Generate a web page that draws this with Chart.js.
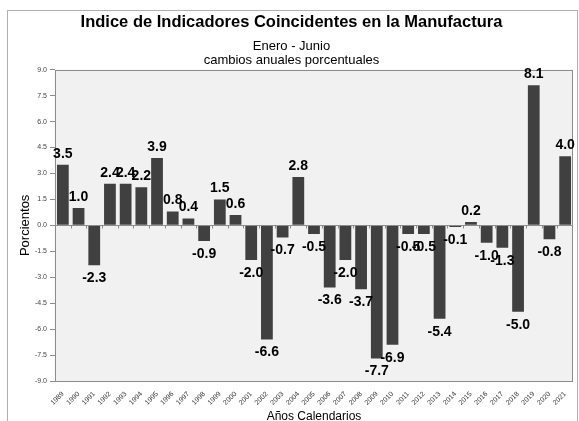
<!DOCTYPE html>
<html>
<head>
<meta charset="utf-8">
<script src="https://cdn.jsdelivr.net/npm/chart.js@4.4.1/dist/chart.umd.min.js"></script>
<style>
  html, body { margin: 0; padding: 0; background: #fff; }
  #wrapper { width: 579px; height: 421px; }
</style>
</head>
<body>
<div id="wrapper"><canvas id="canvas"></canvas></div>
<script>
// años calendario y cambios anuales (%)
var years = ['1989', '1990', '1991', '1992', '1993', '1994', '1995', '1996', '1997', '1998',
  '1999', '2000', '2001', '2002', '2003', '2004', '2005', '2006', '2007', '2008', '2009',
  '2010', '2011', '2012', '2013', '2014', '2015', '2016', '2017', '2018', '2019', '2020', '2021'];
var changes = [3.5, 1.0, -2.3, 2.4, 2.4, 2.2, 3.9, 0.8, 0.4, -0.9,
  1.5, 0.6, -2.0, -6.6, -0.7, 2.8, -0.5, -3.6, -2.0, -3.7, -7.7,
  -6.9, -0.5, -0.5, -5.4, -0.1, 0.2, -1.0, -1.3, -5.0, 8.1, -0.8, 4.0];
var yTicks = [-9.0, -7.5, -6.0, -4.5, -3.0, -1.5, 0.0, 1.5, 3.0, 4.5, 6.0, 7.5, 9.0];

var FONT = '"Liberation Sans", Arial, sans-serif';

// fondo, marcos y línea del cero
var framePlugin = {
  id: 'frame',
  beforeDraw: function(chart) {
    var c = chart.ctx, a = chart.chartArea;
    c.save();
    c.strokeStyle = '#b0b0b0';
    c.lineWidth = 1;
    c.strokeRect(7.5, 10.5, 570, 440);
    c.fillStyle = '#f1f1f1';
    c.fillRect(a.left, a.top, a.right - a.left, a.bottom - a.top);
    c.restore();
  },
  afterDatasetsDraw: function(chart) {
    var c = chart.ctx, a = chart.chartArea;
    var y0 = Math.round(chart.scales.y.getPixelForValue(0)) + 0.5;
    var x = chart.scales.x;
    c.save();
    c.strokeStyle = '#8c8c8c';
    c.lineWidth = 1;
    c.beginPath();
    c.moveTo(a.left, y0);
    c.lineTo(a.right, y0);
    for (var i = 1; i < years.length; i++) {
      var xp = Math.round((x.getPixelForValue(i - 1) + x.getPixelForValue(i)) / 2) + 0.5;
      c.moveTo(xp, y0);
      c.lineTo(xp, y0 + 3);
    }
    c.stroke();
    c.strokeRect(Math.round(a.left) + 0.5, Math.round(a.top) + 0.5,
      Math.round(a.right - a.left) - 1, Math.round(a.bottom - a.top));
    c.restore();
  }
};

// etiquetas de valores
var labelPlugin = {
  id: 'valueLabels',
  afterDatasetsDraw: function(chart) {
    var c = chart.ctx;
    var meta = chart.getDatasetMeta(0);
    c.save();
    c.font = 'bold 14px ' + FONT;
    c.fillStyle = '#000';
    c.textAlign = 'center';
    c.textBaseline = 'middle';
    meta.data.forEach(function(bar, i) {
      var v = changes[i];
      var y = v >= 0 ? bar.y - 11 : bar.y + 13;
      c.fillText(v.toFixed(1), bar.x, y);
    });
    c.restore();
  }
};

var ctx = document.getElementById('canvas');

var myChart = new Chart(ctx, {
  type: 'bar',
  data: {
    labels: years,
    datasets: [{
      data: changes,
      backgroundColor: '#404040',
      borderWidth: 0,
      barPercentage: 0.75,
      categoryPercentage: 1.0
    }]
  },
  options: {
    responsive: true,
    maintainAspectRatio: false,
    animation: false,
    devicePixelRatio: 1,
    layout: { padding: { top: 10, left: 10, right: 6, bottom: 0 } },
    plugins: {
      legend: { display: false },
      tooltip: { enabled: false },
      title: {
        display: true,
        text: 'Indice de Indicadores Coincidentes en la Manufactura',
        color: '#000',
        font: { family: FONT, size: 16.5, weight: 'bold' },
        padding: { top: 3, bottom: 6 }
      },
      subtitle: {
        display: true,
        text: ['Enero - Junio', 'cambios anuales porcentuales'],
        color: '#000',
        font: { family: FONT, size: 13, lineHeight: 1.1 },
        padding: { top: 0, bottom: 2.3 }
      }
    },
    scales: {
      x: {
        grid: { display: false },
        border: { display: false },
        ticks: {
          color: '#333',
          font: { family: FONT, size: 7 },
          maxRotation: 45,
          minRotation: 45,
          autoSkip: false,
          padding: 1
        },
        title: {
          display: true,
          text: 'Años Calendarios',
          color: '#000',
          font: { family: FONT, size: 12 },
          padding: { top: 0, bottom: -3 }
        },
        afterFit: function(scale) { scale.height = 40; }
      },
      y: {
        min: -9,
        max: 9,
        afterBuildTicks: function(scale) {
          scale.ticks = yTicks.map(function(v) { return { value: v }; });
        },
        grid: {
          display: true,
          drawOnChartArea: false,
          tickLength: 5,
          color: '#8c8c8c'
        },
        border: { display: false },
        ticks: {
          color: '#444',
          font: { family: FONT, size: 7 },
          padding: 3,
          callback: function(v) { return Number(v).toFixed(1); }
        },
        title: {
          display: true,
          text: 'Porcientos',
          color: '#000',
          font: { family: FONT, size: 13 },
          padding: { top: 8, bottom: 0 }
        },
        afterFit: function(scale) { scale.width = 45; }
      }
    }
  },
  plugins: [framePlugin, labelPlugin]
});
</script>
</body>
</html>
